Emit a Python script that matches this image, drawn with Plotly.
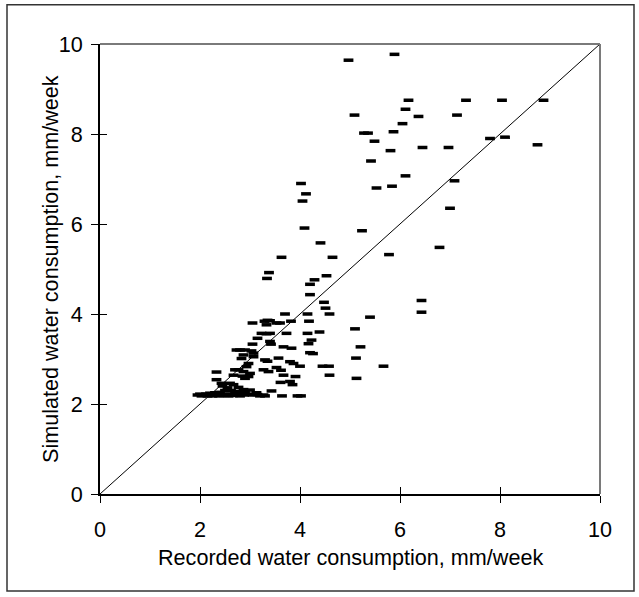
import plotly.graph_objects as go

# Recorded (x) and simulated (y) water consumption, mm/week
recorded = [
    4.97, 5.89, 5.09, 6.17, 6.11, 6.37, 6.05, 7.32, 8.04, 8.87, 7.14, 5.28, 5.36, 5.87, 5.49, 5.81,
    6.45, 6.97, 7.80, 8.10, 8.75, 5.42, 6.11, 5.84, 5.53, 7.09, 7.00, 4.02, 4.12, 4.05, 4.09, 5.24,
    4.41, 6.79, 5.78, 3.63, 4.65, 3.38, 3.34, 4.53, 4.29, 4.20, 4.20, 4.48, 4.51, 4.59, 6.43, 6.43,
    5.40, 5.10, 5.21, 5.12, 5.67, 5.13, 4.45, 4.58, 4.59, 4.39, 4.15, 4.18, 4.15, 4.23, 4.17, 4.20,
    4.26, 3.70, 3.82, 3.73, 3.83, 3.67, 4.00, 3.80, 3.87, 3.57, 3.53, 3.62, 3.61, 3.80, 3.85, 3.67,
    3.91, 3.64, 3.95, 4.02, 3.43, 3.30,
    3.29, 3.35, 3.40, 3.33, 3.53, 3.60, 3.05, 3.23, 3.33, 3.40, 3.15, 3.40, 3.42, 3.05, 2.73, 2.80,
    2.90, 3.03, 3.07, 2.87, 2.83, 3.07, 3.30, 3.35, 2.97, 2.93, 3.27, 3.37, 2.70, 2.77, 2.87, 3.00,
    2.67, 2.85, 2.90, 2.97, 2.60, 2.67, 2.77, 2.87, 3.00, 3.13, 3.27, 2.33, 2.33, 2.43, 2.45, 2.55,
    2.50, 2.62, 2.70, 2.80, 2.90, 2.40, 2.30, 2.20,
    1.95, 2.00, 2.03, 2.08, 2.12, 2.15, 2.20, 2.25, 2.28, 2.33, 2.38, 2.42, 2.47, 2.52, 2.57, 2.60,
    2.66, 2.72, 2.80, 2.88, 2.95, 3.05, 3.15, 3.20,
]
simulated = [
    9.64, 9.77, 8.42, 8.75, 8.55, 8.39, 8.23, 8.75, 8.75, 8.75, 8.42, 8.02, 8.02, 8.05, 7.84, 7.63,
    7.70, 7.70, 7.90, 7.93, 7.76, 7.40, 7.07, 6.84, 6.80, 6.96, 6.35, 6.90, 6.67, 6.51, 5.91, 5.85,
    5.58, 5.48, 5.32, 5.26, 5.26, 4.92, 4.79, 4.85, 4.76, 4.66, 4.43, 4.26, 4.13, 4.00, 4.30, 4.04,
    3.93, 3.67, 3.27, 3.02, 2.84, 2.57, 2.84, 2.84, 2.64, 3.60, 4.00, 3.84, 3.57, 3.42, 3.34, 3.14,
    3.12, 4.00, 3.84, 3.57, 3.24, 3.27, 2.84, 2.94, 2.90, 3.02, 2.81, 2.75, 2.48, 2.50, 2.43, 2.64,
    2.61, 2.18, 2.18, 2.18, 2.29, 2.18,
    3.84, 3.86, 3.85, 3.76, 3.80, 3.80, 3.80, 3.57, 3.56, 3.57, 3.46, 3.39, 3.33, 3.33, 3.20, 3.20,
    3.20, 3.18, 3.13, 3.09, 3.01, 3.05, 2.98, 2.95, 2.90, 2.83, 2.76, 2.72, 2.76, 2.76, 2.72, 2.68,
    2.64, 2.62, 2.57, 2.61, 2.46, 2.43, 2.37, 2.32, 2.31, 2.25, 2.20, 2.71, 2.54, 2.46, 2.40, 2.36,
    2.30, 2.30, 2.28, 2.27, 2.26, 2.26, 2.25, 2.24,
    2.20, 2.22, 2.18, 2.20, 2.22, 2.18, 2.20, 2.18, 2.22, 2.20, 2.18, 2.21, 2.19, 2.22, 2.18, 2.21,
    2.19, 2.22, 2.18, 2.20, 2.22, 2.20, 2.21, 2.18,
]
diag = [0, 10]
tick_vals = [0, 2, 4, 6, 8, 10]
tick_text = ["0", "2", "4", "6", "8", "10"]

x_title = "Recorded water consumption, mm/week"
y_title = "Simulated water consumption, mm/week"

FONT = "Arial, Liberation Sans, sans-serif"

fig = go.Figure()
fig.add_trace(go.Scatter(
    x=recorded, y=simulated, mode="markers",
    marker=dict(symbol="line-ew", size=7, line=dict(width=3.5, color="black")),
    showlegend=False, hoverinfo="x+y",
))
fig.add_trace(go.Scatter(
    x=diag, y=diag, mode="lines", xaxis="x2", yaxis="y2",
    line=dict(color="black", width=1), showlegend=False, hoverinfo="skip",
))

common = dict(range=[0, 10], tickvals=tick_vals, ticktext=tick_text, showgrid=False,
              zeroline=False, ticklen=7, tickwidth=1.3, tickcolor="black", fixedrange=True)

fig.update_layout(
    width=639, height=597, autosize=False,
    margin=dict(l=100, r=39, t=44, b=103),
    paper_bgcolor="white", plot_bgcolor="white",
    font=dict(family=FONT, size=21.6, color="black"),
    xaxis=dict(**common, ticks="outside", showline=True, linecolor="black", linewidth=2,
               tickfont=dict(size=21.6), ticklabelstandoff=8),
    yaxis=dict(**common, ticks="outside", showline=True, linecolor="black", linewidth=2,
               tickfont=dict(size=21.6), ticklabelstandoff=4),
    xaxis2=dict(**common, ticks="inside", overlaying="x", anchor="y2", side="bottom",
                showticklabels=False, showline=False),
    yaxis2=dict(**common, ticks="inside", overlaying="y", anchor="x2", side="left",
                showticklabels=False, showline=False),
    shapes=[
        dict(type="line", xref="paper", yref="paper", x0=0, x1=1, y0=1, y1=1,
             line=dict(color="#7a7a7a", width=2)),
        dict(type="line", xref="paper", yref="paper", x0=1, x1=1, y0=0, y1=1,
             line=dict(color="#7a7a7a", width=2)),
        dict(type="rect", xref="paper", yref="paper", x0=-0.186, x1=1.068, y0=-0.2156, y1=1.087,
             line=dict(color="#333333", width=1.5)),
    ],
    annotations=[
        dict(text=x_title, xref="paper", yref="paper", x=0.5, y=-0.1422,
             xanchor="center", yanchor="middle", showarrow=False, font=dict(size=21.6)),
        dict(text=y_title, xref="paper", yref="paper", x=-0.1, y=0.5, textangle=-90,
             xanchor="center", yanchor="middle", showarrow=False, font=dict(size=21.6)),
    ],
)

fig.write_html("out.html")
